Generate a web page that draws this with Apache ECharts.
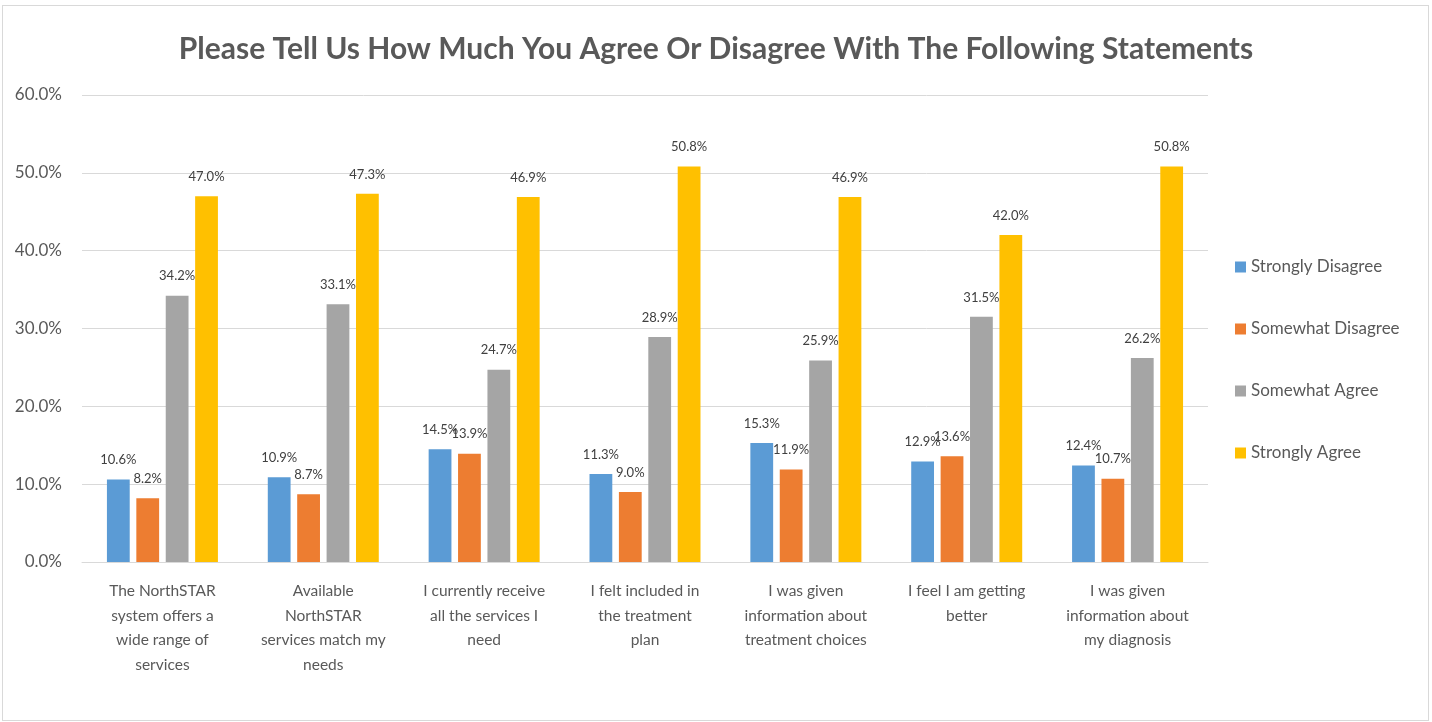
<!DOCTYPE html>
<html>
<head>
<meta charset="utf-8">
<script src="https://cdn.jsdelivr.net/npm/echarts@6/dist/echarts.min.js"></script>
<style>
  html, body { margin: 0; padding: 0; background: #fff; }
  #frame { position: absolute; left: 2px; top: 5px; width: 1425px; height: 714px; border: 1px solid #D9D9D9; }
  #chart { position: absolute; left: 0; top: 0; width: 1432px; height: 722px; }
</style>
</head>
<body>
<div id="frame"></div>
<div id="chart"></div>
<script>
const titleText = 'Please Tell Us How Much You Agree Or Disagree With The Following Statements';
const categories = [
  'The NorthSTAR\nsystem offers a\nwide range of\nservices',
  'Available\nNorthSTAR\nservices match my\nneeds',
  'I currently receive\nall the services I\nneed',
  'I felt included in\nthe treatment\nplan',
  'I was given\ninformation about\ntreatment choices',
  'I feel I am getting\nbetter',
  'I was given\ninformation about\nmy diagnosis'
];
const seriesNames = ['Strongly Disagree', 'Somewhat Disagree', 'Somewhat Agree', 'Strongly Agree'];
const stronglyDisagree = [10.6, 10.9, 14.5, 11.3, 15.3, 12.9, 12.4];
const somewhatDisagree = [8.2, 8.7, 13.9, 9.0, 11.9, 13.6, 10.7];
const somewhatAgree = [34.2, 33.1, 24.7, 28.9, 25.9, 31.5, 26.2];
const stronglyAgree = [47.0, 47.3, 46.9, 50.8, 46.9, 42.0, 50.8];
const yTicks = { min: 0, max: 60, interval: 10 };
const colors = ['#5B9BD5', '#ED7D31', '#A5A5A5', '#FFC000'];

const FONT = 'Lato';
const TXT = '#595959';
const seriesData = [stronglyDisagree, somewhatDisagree, somewhatAgree, stronglyAgree];

const chart = echarts.init(document.getElementById('chart'), null, { renderer: 'canvas' });
chart.setOption({
  animation: false,
  color: colors,
  title: {
    text: titleText,
    left: 'center',
    top: 29,
    textStyle: { fontFamily: FONT, fontWeight: 'bold', fontSize: 30, color: TXT }
  },
  legend: {
    orient: 'vertical',
    left: 1230,
    top: 252,
    itemWidth: 11,
    itemHeight: 11,
    itemGap: 42,
    icon: 'rect',
    textStyle: { fontFamily: FONT, fontSize: 17, color: TXT, lineHeight: 20 },
    data: seriesNames
  },
  grid: { left: 82, right: 224, top: 95, bottom: 160, containLabel: false },
  xAxis: {
    type: 'category',
    data: categories,
    axisLine: { lineStyle: { color: '#D9D9D9', width: 1 } },
    axisTick: { show: false },
    axisLabel: {
      interval: 0, margin: 17, fontFamily: FONT, fontSize: 15.5, color: TXT, lineHeight: 24.5, align: 'center'
    }
  },
  yAxis: {
    type: 'value',
    min: yTicks.min,
    max: yTicks.max,
    interval: yTicks.interval,
    axisLine: { show: false },
    axisTick: { show: false },
    splitLine: { lineStyle: { color: '#D9D9D9', width: 1 } },
    axisLabel: {
      margin: 20, fontFamily: FONT, fontSize: 17, color: TXT,
      formatter: v => v.toFixed(1) + '%'
    }
  },
  series: seriesNames.map((name, i) => ({
    name,
    type: 'bar',
    data: seriesData[i],
    barGap: '29%',
    barCategoryGap: '31%',
    itemStyle: { color: colors[i] },
    label: {
      show: true,
      position: 'top',
      distance: 13,
      fontFamily: FONT,
      fontSize: 13,
      color: '#404040',
      formatter: p => p.value.toFixed(1) + '%'
    }
  }))
});
</script>
</body>
</html>
